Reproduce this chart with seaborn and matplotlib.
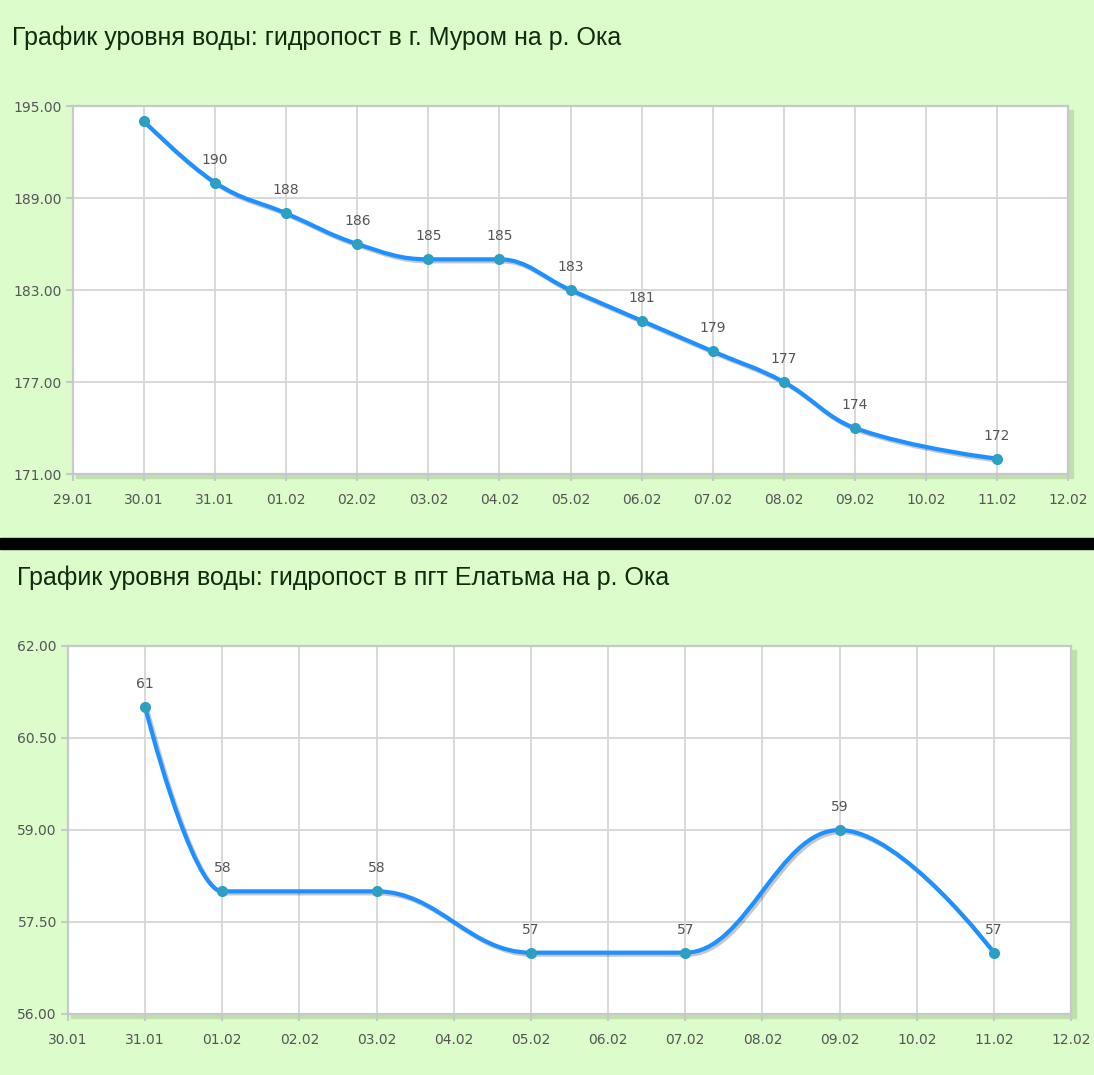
import numpy as np
import seaborn as sns
import matplotlib
matplotlib.use("Agg")
import matplotlib.pyplot as plt
from matplotlib.path import Path
from matplotlib.patches import PathPatch, Rectangle
import matplotlib.patheffects as pe

# ---- data ----
title_top = "График уровня воды: гидропост в г. Муром на р. Ока"
ticks_top = ["29.01", "30.01", "31.01", "01.02", "02.02", "03.02", "04.02", "05.02",
             "06.02", "07.02", "08.02", "09.02", "10.02", "11.02", "12.02"]
dates_top = ["30.01", "31.01", "01.02", "02.02", "03.02", "04.02", "05.02",
             "06.02", "07.02", "08.02", "09.02", "11.02"]
levels_top = [194, 190, 188, 186, 185, 185, 183, 181, 179, 177, 174, 172]
yticks_top = [171, 177, 183, 189, 195]

title_bot = "График уровня воды: гидропост в пгт Елатьма на р. Ока"
ticks_bot = ["30.01", "31.01", "01.02", "02.02", "03.02", "04.02", "05.02",
             "06.02", "07.02", "08.02", "09.02", "10.02", "11.02", "12.02"]
dates_bot = ["31.01", "01.02", "03.02", "05.02", "07.02", "09.02", "11.02"]
levels_bot = [61, 58, 58, 57, 57, 59, 57]
yticks_bot = [56, 57.5, 59, 60.5, 62]

W, H = 1094, 1075
bg = "#dcfccc"
line_c = "#1e90ff"
marker_c = "#2b9fc4"
txt_c = "#555555"

sns.set_style("white")
plt.rcParams["font.family"] = ["DejaVu Sans"]


def spline_path(xs, ys, smoothing=1.5):
    # highcharts-like spline: cubic bezier control points per point
    n = len(xs)
    denom = smoothing + 1
    left = [(xs[i], ys[i]) for i in range(n)]
    right = [(xs[i], ys[i]) for i in range(n)]
    for i in range(1, n - 1):
        px, py = xs[i], ys[i]
        lx, ly = xs[i - 1], ys[i - 1]
        nx, ny = xs[i + 1], ys[i + 1]
        lcx = (smoothing * px + lx) / denom
        lcy = (smoothing * py + ly) / denom
        rcx = (smoothing * px + nx) / denom
        rcy = (smoothing * py + ny) / denom
        corr = (rcy - lcy) * (rcx - px) / (rcx - lcx) + py - rcy
        lcy += corr
        rcy += corr
        if lcy > ly and lcy > py:
            lcy = max(ly, py); rcy = 2 * py - lcy
        elif lcy < ly and lcy < py:
            lcy = min(ly, py); rcy = 2 * py - lcy
        if rcy > ny and rcy > py:
            rcy = max(ny, py); lcy = 2 * py - rcy
        elif rcy < ny and rcy < py:
            rcy = min(ny, py); lcy = 2 * py - rcy
        left[i] = (lcx, lcy)
        right[i] = (rcx, rcy)
    verts = [(xs[0], ys[0])]
    codes = [Path.MOVETO]
    for i in range(1, n):
        verts += [right[i - 1], left[i], (xs[i], ys[i])]
        codes += [Path.CURVE4] * 3
    return Path(verts, codes)


def draw_panel(fig, box, title, title_xy, ticks, dates, levels, yticks, skip_first_label):
    l, t, r, b = box
    # plot area shadow
    fig.patches.append(Rectangle(((l + 3) / W, 1 - (b + 4) / H), (r - l + 2) / W, (b - t) / H,
                                 transform=fig.transFigure, color="#bfe0ad", zorder=-1))
    ax = fig.add_axes([l / W, 1 - b / H, (r - l) / W, (b - t) / H])
    ax.set_zorder(2)
    ax.set_facecolor("white")
    xs = [ticks.index(d) for d in dates]

    ax.set_xlim(0, len(ticks) - 1)
    ax.set_ylim(yticks[0], yticks[-1])
    ax.set_xticks(range(len(ticks)))
    ax.set_xticklabels(ticks)
    ax.set_yticks(yticks)
    ax.set_yticklabels([f"{v:.2f}" for v in yticks])
    ax.grid(True, color="#d6d6d6", linewidth=1.3)
    ax.set_axisbelow(True)
    for s in ax.spines.values():
        s.set_color("#c8c8c8")
        s.set_linewidth(1.6)
    ax.tick_params(axis="both", colors="#c8c8c8", labelcolor=txt_c, labelsize=10,
                   length=5, width=1.5, left=True, bottom=True)
    ax.tick_params(axis="x", pad=9)
    ax.tick_params(axis="y", pad=3)

    patch = PathPatch(spline_path(xs, levels), facecolor="none", edgecolor=line_c,
                      linewidth=3.0, capstyle="round", joinstyle="round", zorder=3)
    patch.set_path_effects([pe.SimpleLineShadow(offset=(1.5, -1.5), shadow_color="#000000", alpha=0.22),
                            pe.Normal()])
    ax.add_patch(patch)

    sns.scatterplot(x=xs, y=levels, ax=ax, color=marker_c, s=64, linewidth=0, zorder=4,
                    clip_on=False, legend=False)

    for i, (x, y) in enumerate(zip(xs, levels)):
        if skip_first_label and i == 0:
            continue
        ax.annotate(str(y), (x, y), xytext=(0, 16.5), textcoords="offset points",
                    ha="center", va="center", fontsize=10, color=txt_c, zorder=5)

    fig.text(title_xy[0] / W, 1 - title_xy[1] / H, title, fontsize=18,
             family=["Liberation Sans", "DejaVu Sans"], color="#0c2e0c", va="center", ha="left")
    ax.set_xlabel("")
    ax.set_ylabel("")
    return ax


fig = plt.figure(figsize=(W / 100, H / 100), dpi=100, facecolor=bg)

# black separator
fig.patches.append(Rectangle((0, 1 - 549 / H), 1, 11 / H, transform=fig.transFigure,
                             color="black", zorder=-1))

draw_panel(fig, (73, 106, 1068, 474), title_top, (12, 38), ticks_top, dates_top,
           levels_top, yticks_top, True)
draw_panel(fig, (68, 646, 1071, 1014), title_bot, (17, 578), ticks_bot, dates_bot,
           levels_bot, yticks_bot, False)

fig.savefig("out.png", dpi=100, facecolor=bg)
